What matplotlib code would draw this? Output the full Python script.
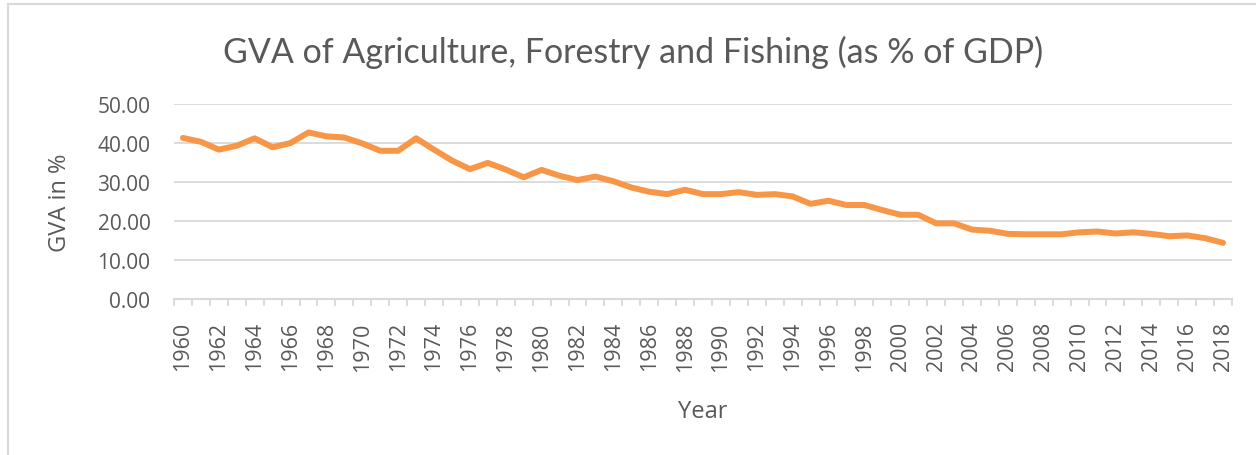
import matplotlib
matplotlib.use("Agg")
import matplotlib.pyplot as plt
from matplotlib.patches import Rectangle

years = list(range(1960, 2019))
gva = [41.3, 40.3, 38.3, 39.3, 41.2, 38.9, 40.0, 42.7, 41.7, 41.4,
       39.9, 38.0, 38.0, 41.2, 38.3, 35.5, 33.3, 34.9, 33.2, 31.2,
       33.1, 31.6, 30.5, 31.4, 30.2, 28.6, 27.5, 26.9, 28.0, 26.9,
       26.9, 27.4, 26.7, 26.9, 26.3, 24.4, 25.2, 24.1, 24.1, 22.8,
       21.6, 21.6, 19.4, 19.4, 17.8, 17.5, 16.7, 16.6, 16.6, 16.6,
       17.1, 17.3, 16.8, 17.1, 16.7, 16.1, 16.3, 15.6, 14.4]
yticks = [0, 10, 20, 30, 40, 50]

title = "GVA of Agriculture, Forestry and Fishing (as % of GDP)"
ylabel = "GVA in %"
xlabel = "Year"

W, H = 1256, 456
fig = plt.figure(figsize=(W / 100, H / 100), dpi=100)
fig.patch.set_facecolor("white")

txt = "#595959"
grid = "#D9D9D9"

# outer chart border
fig.patches.append(Rectangle((8 / W, -0.05), 1.2, (H - 5) / H + 0.05, transform=fig.transFigure,
                             fill=False, edgecolor=grid, linewidth=1.5))

left, right = 174 / W, 1232 / W
bottom, top = 1 - 300 / H, 1 - 105 / H
ax = fig.add_axes([left, bottom, right - left, top - bottom])

x = list(range(len(years)))
ax.plot(x, gva, color="#F79646", linewidth=4.3, solid_joinstyle="round", solid_capstyle="round", zorder=3)

ax.set_xlim(-0.5, len(years) - 0.5)
ax.set_ylim(0, 50)
ax.set_yticks(yticks)
ax.set_yticklabels([f"{v:.2f}" for v in yticks])
for v in yticks[1:]:
    ax.axhline(v, color=grid, linewidth=1.3, zorder=1)

for s in ["top", "right", "left"]:
    ax.spines[s].set_visible(False)
ax.spines["bottom"].set_color(grid)
ax.spines["bottom"].set_linewidth(1.5)

ax.set_xticks([i - 0.5 for i in range(len(years) + 1)], minor=False)
ax.set_xticklabels([])
ax.tick_params(axis="x", which="major", length=5, color=grid, width=1.3)
ax.set_xticks(x[::2], minor=True)
ax.set_xticklabels([str(y) for y in years[::2]], minor=True, rotation=90,
                   fontsize=15.5, color=txt, family="Open Sans")
ax.tick_params(axis="x", which="minor", length=0, pad=16)
ax.tick_params(axis="y", length=0, pad=17, labelsize=15, labelcolor=txt)
for lab in ax.get_yticklabels():
    lab.set_family("Open Sans")

fig.text(633 / W, 1 - 52 / H, title, ha="center", va="center", fontsize=24.5,
         color=txt, family="Lato")
fig.text(60 / W, 1 - 203 / H, ylabel, ha="center", va="center", rotation=90,
         fontsize=17, color=txt, family="Open Sans")
fig.text(703 / W, 1 - 412 / H, xlabel, ha="center", va="center",
         fontsize=17, color=txt, family="Open Sans")

fig.savefig("out.png", dpi=100, facecolor="white")
